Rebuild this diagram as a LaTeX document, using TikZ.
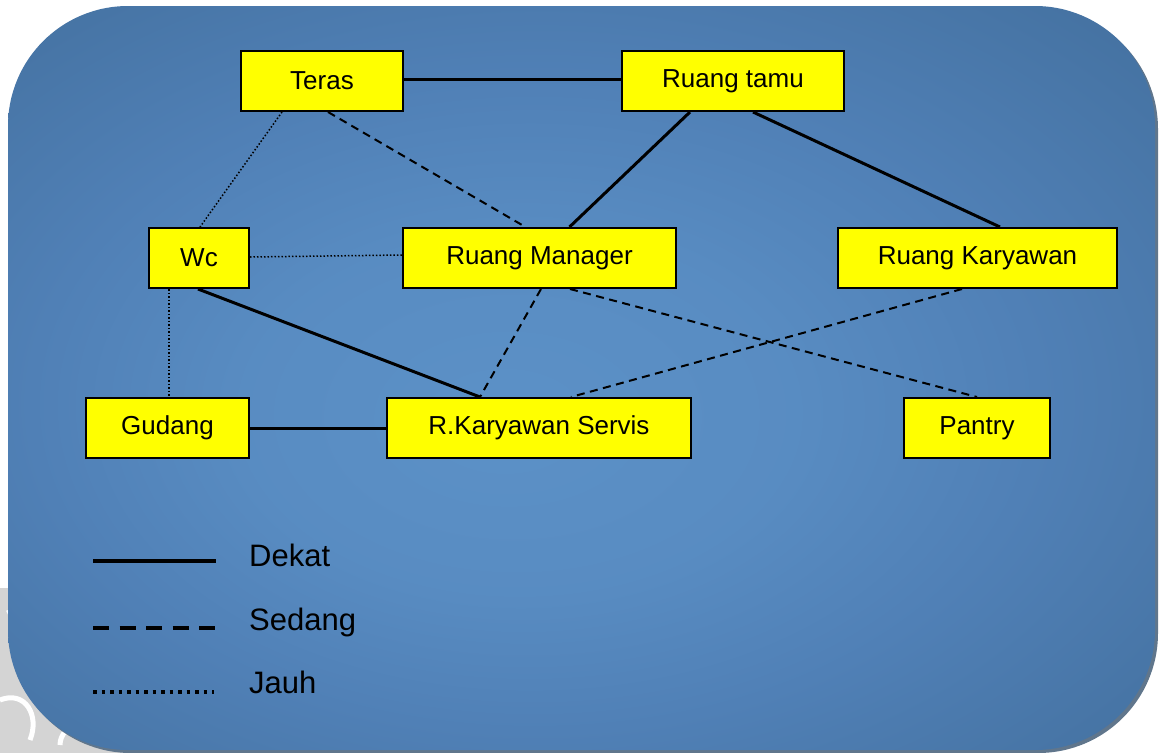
\documentclass[tikz,border=0pt]{standalone}
\usepackage{fontspec}
\setmainfont{Liberation Sans}
\usetikzlibrary{calc}

\definecolor{bgin}{RGB}{92,145,199}
\definecolor{bgmid}{RGB}{80,128,182}
\definecolor{bgout}{RGB}{68,113,160}
\definecolor{bgshadow}{RGB}{96,118,140}
\definecolor{wmgray}{RGB}{212,212,212}
\definecolor{boxfill}{RGB}{255,255,0}

\pgfdeclareradialshading{panelshade}{\pgfpoint{-3.6bp}{-3.1bp}}{%
  color(0bp)=(bgin);
  color(12bp)=(bgin!70!bgmid);
  color(22bp)=(bgmid);
  color(36bp)=(bgout);
  color(50bp)=(bgout)}

\tikzset{
  room/.style={draw=black, line width=2pt, fill=boxfill, inner sep=0pt,
    minimum height=60pt, font=\fontsize{26}{30}\selectfont},
  dekat/.style={draw=black, line width=3pt},
  sedang/.style={draw=black, line width=2pt, dash pattern=on 8pt off 5.5pt},
  jauh/.style={draw=black, line width=1.5pt, dash pattern=on 1.5pt off 2pt},
  legendtext/.style={anchor=base west, inner sep=0pt,
    font=\fontsize{31}{36}\selectfont}
}

\begin{document}
\begin{tikzpicture}[x=1pt, y=-1pt]
\useasboundingbox (0,0) rectangle (1163,753);
\fill[white] (0,0) rectangle (1163,753);

% faint watermark behind the lower left corner
\begin{scope}
  \clip (0,0) rectangle (1163,753);
  \fill[wmgray] (0,753) circle (165);
  \draw[white, line width=5pt] (18,660) arc (200:320:28);
  \draw[white, line width=5pt] (0,700) .. controls (25,690) and (40,715) .. (30,740);
  \draw[white, line width=5pt] (60,745) arc (180:330:20);
  \draw[white, line width=4pt] (8,610) -- (22,640);
\end{scope}

% panel
\fill[bgshadow, rounded corners=120pt] (11,9) rectangle (1158,753);
\shade[shading=panelshade, rounded corners=120pt] (8,6) rectangle (1155,750);

% rooms
\node[room, minimum width=162pt] (teras)    at (322,81)    {Teras};
\node[room, minimum width=222pt] (tamu)     at (733,81)    {Ruang tamu};
\node[room, minimum width=100pt] (wc)       at (199,258)   {Wc};
\node[room, minimum width=273pt] (manager)  at (539.5,258) {Ruang Manager};
\node[room, minimum width=279pt] (karyawan) at (977.5,258) {Ruang Karyawan};
\node[room, minimum width=163pt] (gudang)   at (167.5,428) {Gudang};
\node[room, minimum width=304pt] (servis)   at (539,428)   {R.Karyawan Servis};
\node[room, minimum width=146pt] (pantry)   at (977,428)   {Pantry};

% relations
\draw[dekat]  ([yshift=2pt]teras.east) -- ([yshift=2pt]tamu.west);
\draw[dekat]  ([xshift=-43pt]tamu.south) -- ([xshift=30pt]manager.north);
\draw[dekat]  ([xshift=20pt]tamu.south) -- ([xshift=22.5pt]karyawan.north);
\draw[jauh]   ([xshift=-40pt]teras.south) -- ([xshift=1pt]wc.north);
\draw[sedang] ([xshift=6pt]teras.south) -- ([xshift=-14pt]manager.north);
\draw[jauh]   ([yshift=1pt]wc.east) -- ([yshift=3pt]manager.west);
\draw[dekat]  ([xshift=-1pt]wc.south) -- ([xshift=-59pt]servis.north);
\draw[jauh]   ([xshift=-30pt]wc.south) -- ([xshift=1.5pt]gudang.north);
\draw[dekat]  (gudang.east) -- (servis.west);
\draw[sedang] ([xshift=1.5pt]manager.south) -- ([xshift=-59pt]servis.north);
\draw[sedang] ([xshift=30.5pt]manager.south) -- (pantry.north);
\draw[sedang] ([xshift=-15.5pt]karyawan.south) -- ([xshift=32pt]servis.north);

% legend
\coordinate (l1a) at (93,561);  \coordinate (l1b) at (216,561);
\coordinate (l2a) at (93,628);  \coordinate (l2b) at (216,628);
\coordinate (l3a) at (93,692);  \coordinate (l3b) at (214,692);
\draw[black, line width=4pt] (l1a) -- (l1b);
\draw[black, line width=4pt, dash pattern=on 16pt off 10.5pt] (l2a) -- (l2b);
\draw[black, line width=3.5pt, dash pattern=on 3.5pt off 5pt] (l3a) -- (l3b);
\node[legendtext] (dekat)  at (249,566) {Dekat};
\node[legendtext] (sedang) at (249,630) {Sedang};
\node[legendtext] (jauh)   at (249,693) {Jauh};
\end{tikzpicture}
\end{document}
